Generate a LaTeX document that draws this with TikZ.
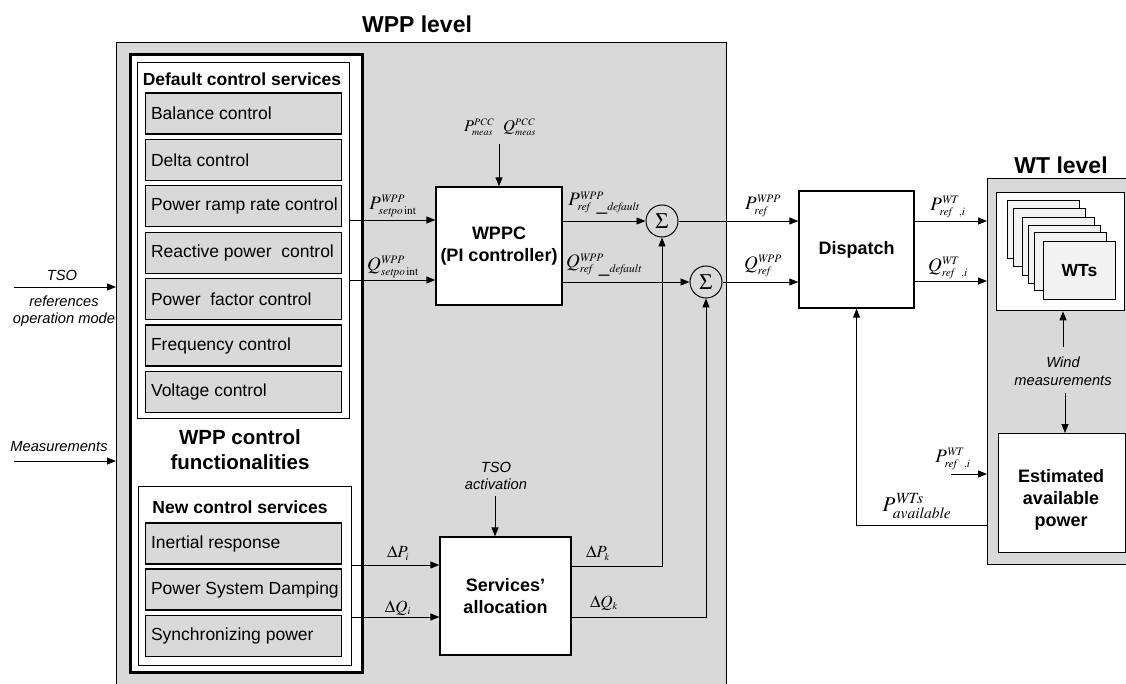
\documentclass[tikz,border=0pt]{standalone}
\usepackage{mathptmx}
\usepackage[no-math]{fontspec}
\setmainfont{Liberation Sans}
\usetikzlibrary{arrows.meta,calc}
\definecolor{bggray}{HTML}{D9D9D9}
\definecolor{cardgray}{HTML}{F2F2F2}
\newcommand{\svcitem}[3]{%
  \node[svc] (#1) at (243.5,#2) {};
  \node[svctxt] at ([xshift=6pt]#1.west) {#3};}
\newcommand{\lbl}[3]{$#1^{\scriptscriptstyle\mathit{#2}}_{\scriptscriptstyle #3}$}
\begin{document}
\begin{tikzpicture}[x=1pt,y=-1pt,
  arr/.style={-{Triangle[length=9pt,width=7pt]}, line width=0.9pt},
  ln/.style={line width=0.9pt},
  blk/.style={draw, line width=1.3pt, fill=white, inner sep=0pt, font=\fontsize{18}{22}\selectfont\bfseries, align=center},
  frame/.style={draw, anchor=north west, inner sep=0pt},
  svc/.style={draw, line width=1.3pt, fill=bggray, minimum width=196pt, minimum height=41pt, inner sep=0pt},
  svctxt/.style={anchor=west, inner sep=0pt, font=\fontsize{17.5}{21}\selectfont},
  ttl/.style={font=\fontsize{17.5}{21}\selectfont\bfseries, inner sep=0pt},
  lvl/.style={font=\fontsize{23}{27}\selectfont\bfseries, inner sep=0pt},
  itl/.style={font=\fontsize{14.7}{17.5}\selectfont\itshape, inner sep=0pt, align=center},
  mth/.style={inner sep=0pt, font=\fontsize{19}{22}\selectfont},
  mths/.style={inner sep=0pt, font=\fontsize{16.5}{19}\selectfont},
  mthd/.style={inner sep=0pt, font=\fontsize{17}{20}\selectfont},
  sig/.style={draw, circle, line width=1pt, minimum size=32pt, inner sep=0pt, font=\fontsize{22}{24}\selectfont},
  card/.style={draw, fill=cardgray, line width=1pt, anchor=north west, minimum width=72pt, minimum height=58pt, inner sep=0pt}]
\useasboundingbox (0,0) rectangle (1126,684);
\clip (0,0) rectangle (1126,684);

% ---------- WPP level ----------
\node[frame, fill=bggray, line width=1pt, minimum width=610pt, minimum height=660pt] (wpp) at (116,42) {};
\node[lvl] (wpptitle) at (417,24) {WPP level};

\node[frame, fill=white, line width=3pt, minimum width=232pt, minimum height=618pt] (func) at (129,53) {};
\node[frame, fill=white, line width=1.3pt, minimum width=212pt, minimum height=356pt] (defbox) at (137,62) {};
\node[ttl] (deftitle) at (242,79) {Default control services};

\svcitem{bal}{113.5}{Balance control}
\svcitem{del}{159.9}{Delta control}
\svcitem{ramp}{206.3}{Power ramp rate control}
\svcitem{react}{252.7}{Reactive power\ \ control}
\svcitem{pf}{299.1}{Power\ \ factor control}
\svcitem{freq}{345.5}{Frequency control}
\svcitem{volt}{391.9}{Voltage control}

\node[inner sep=0pt, font=\fontsize{20.5}{25}\selectfont\bfseries, align=center] (functitle) at (240,450) {WPP control\\functionalities};

\node[frame, fill=white, line width=1.3pt, minimum width=213pt, minimum height=179pt] (newbox) at (138,486) {};
\node[ttl] (newtitle) at (240,507) {New control services};
\svcitem{inert}{543.5}{Inertial response}
\svcitem{damp}{589.5}{Power System Damping}
\svcitem{sync}{636}{Synchronizing power}

% ---------- blocks ----------
\node[blk, minimum width=126pt, minimum height=118pt] (wppc) at (499,246) {WPPC\\(PI controller)};
\node[blk, minimum width=131pt, minimum height=118pt] (alloc) at (505.5,596) {Services’\\allocation};
\node[blk, minimum width=115pt, minimum height=117pt] (disp) at (856.5,249.5) {Dispatch};
\node[sig] (s1) at (662,221) {$\Sigma$};
\node[sig] (s2) at (706,282) {$\Sigma$};

% ---------- WT level ----------
\node[frame, fill=bggray, line width=1.3pt, minimum width=180pt, minimum height=386pt] (wtl) at (987,178) {};
\node[lvl] (wttitle) at (1061,165) {WT level};
\node[frame, fill=white, line width=1.3pt, minimum width=128pt, minimum height=118pt] (wts) at (996,192) {};
\node[card] (c1) at (1007,200) {};
\node[card] (c2) at (1013,208) {};
\node[card] (c3) at (1022,217) {};
\node[card] (c4) at (1028,225) {};
\node[card] (c5) at (1034,232) {};
\node[card] (c6) at (1043,241) {};
\node[ttl] (wtstxt) at (c6.center) {WTs};
\node[frame, fill=white, line width=1.3pt, minimum width=127pt, minimum height=119pt] (est) at (998,433) {};
\node[inner sep=0pt, font=\fontsize{18}{22}\selectfont\bfseries, align=center] (esttxt) at (1061,500) {Estimated\\available\\power};

% ---------- left inputs ----------
\coordinate (tsoin) at (14,287);
\coordinate (measin) at (14,461);
\draw[arr] (tsoin) -- (tsoin -| wpp.west);
\draw[arr] (measin) -- (measin -| wpp.west);
\node[itl] (tsol) at (62,275) {TSO};
\node[itl] (refl) at (64,311) {references\\operation mode};
\node[itl] (measl) at (59,447) {Measurements};

% ---------- WPPC connections ----------
\coordinate (psp) at (349,220);
\coordinate (qsp) at (349,280);
\draw[arr] (psp) -- (psp -| wppc.west);
\draw[arr] (qsp) -- (qsp -| wppc.west);
\node[mth] (pspl) at (393,206) {\lbl{P}{WPP}{\mathit{setpo}\,\mathrm{int}}};
\node[mth] (qspl) at (393,267) {\lbl{Q}{WPP}{\mathit{setpo}\,\mathrm{int}}};

\coordinate (measpt) at (499,144);
\draw[arr] (measpt) -- (wppc.north);
\node[mths] (pccl) at (500,127) {\lbl{P}{PCC}{\mathit{meas}}\;\;\lbl{Q}{PCC}{\mathit{meas}}};

\draw[arr] (s1 -| wppc.east) -- (s1);
\draw[arr] (s2 -| wppc.east) -- (s2);
\node[mth] (prdl) at (604,203) {\lbl{P}{WPP}{\mathit{ref}\ \_\mathit{default}}};
\node[mth] (qrdl) at (604,265) {\lbl{Q}{WPP}{\mathit{ref}\ \_\mathit{default}}};

\draw[arr] (s1) -- (s1 -| disp.west);
\draw[arr] (s2) -- (s2 -| disp.west);
\node[mth] (prl) at (763,206) {\lbl{P}{WPP}{\mathit{ref}}};
\node[mth] (qrl) at (763,266) {\lbl{Q}{WPP}{\mathit{ref}}};

% ---------- allocation ----------
\coordinate (tsoact) at (495,496);
\draw[arr] (tsoact) -- (tsoact |- alloc.north);
\node[itl] (tsoactl) at (496,476) {TSO\\activation};

\coordinate (dpi) at (351,565);
\coordinate (dqi) at (351,617);
\draw[arr] (dpi) -- (dpi -| alloc.west);
\draw[arr] (dqi) -- (dqi -| alloc.west);
\node[mthd] (dpil) at (398,553) {$\Delta P_{\scriptscriptstyle i}$};
\node[mthd] (dqil) at (398,608) {$\Delta Q_{\scriptscriptstyle i}$};

\coordinate (dpk) at (571,566);
\coordinate (dqk) at (571,617);
\draw[arr] (dpk) -| (s1);
\draw[arr] (dqk) -| (s2);
\node[mthd] (dpkl) at (598,553) {$\Delta P_{\scriptscriptstyle k}$};
\node[mthd] (dqkl) at (604,603) {$\Delta Q_{\scriptscriptstyle k}$};

% ---------- dispatch outputs ----------
\coordinate (pwt) at (914,221);
\coordinate (qwt) at (914,281);
\draw[arr] (pwt) -- (pwt -| wtl.west);
\draw[arr] (qwt) -- (qwt -| wtl.west);
\node[mth] (pwtl) at (948,207) {\lbl{P}{WT}{\mathit{ref}\ ,i}};
\node[mth] (qwtl) at (948,268) {\lbl{Q}{WT}{\mathit{ref}\ ,i}};

% ---------- WT level internals ----------
\coordinate (w1) at (1063,347);
\draw[arr] (w1) -- (w1 |- wts.south);
\node[itl] (windl) at (1063,371) {Wind\\measurements};
\coordinate (w2) at (1065,393);
\draw[arr] (w2) -- (w2 |- est.north);

\coordinate (prin) at (951,474);
\draw[arr] (prin) -- (prin -| wtl.west);
\node[mth] (prinl) at (953,459) {\lbl{P}{WT}{\mathit{ref}\ ,i}};

\coordinate (pav) at (987,525);
\draw[arr] (pav) -| (disp.south);
\node[inner sep=0pt, font=\fontsize{21}{24}\selectfont] (pavl) at (917,506) {$P^{\scriptstyle\mathit{WTs}}_{\scriptstyle\mathit{available}}$};
\end{tikzpicture}
\end{document}
